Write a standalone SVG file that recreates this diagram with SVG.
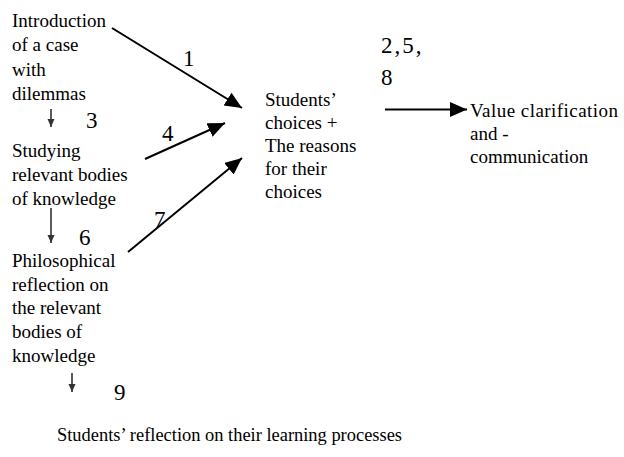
<svg xmlns="http://www.w3.org/2000/svg" width="624" height="457" viewBox="0 0 624 457" font-family="'Liberation Serif', 'Times New Roman', Times, 'DejaVu Serif', serif">
  <style>
    .t { font-size: 19px; fill: #000; }
    .n { font-size: 23px; fill: #000; }
    .main { stroke: #000; stroke-width: 2; fill: none; }
    .step { stroke: #333; stroke-width: 1.6; fill: none; }
  </style>
  <defs>
    <marker id="big" markerUnits="userSpaceOnUse" markerWidth="18" markerHeight="16" refX="17" refY="7.5" orient="auto">
      <path d="M0,0 L17,7.5 L0,15 Z" fill="#000"/>
    </marker>
    <marker id="small" markerUnits="userSpaceOnUse" markerWidth="9" markerHeight="8" refX="8" refY="3.5" orient="auto">
      <path d="M0,0 L8,3.5 L0,7 Z" fill="#333"/>
    </marker>
  </defs>

  <g id="connectors">
    <line class="main" x1="112" y1="28" x2="242" y2="108" marker-end="url(#big)"/>
    <line class="main" x1="145" y1="159" x2="225" y2="123" marker-end="url(#big)"/>
    <line class="main" x1="128" y1="252" x2="242" y2="158" marker-end="url(#big)"/>
    <line class="main" x1="385" y1="109.5" x2="467" y2="109.5" marker-end="url(#big)"/>
    <line class="step" x1="51" y1="109" x2="51" y2="127" marker-end="url(#small)"/>
    <line class="step" x1="51" y1="208" x2="51" y2="243" marker-end="url(#small)"/>
    <line class="step" x1="72" y1="373" x2="72" y2="392" marker-end="url(#small)"/>
  </g>

  <g id="labels">
    <text class="n" x="183" y="66">1</text>
    <text class="n" x="86" y="128">3</text>
    <text class="n" x="162" y="141">4</text>
    <text class="n" x="79" y="245">6</text>
    <text class="n" x="154" y="227">7</text>
    <text class="n" x="114" y="400">9</text>
    <text class="n" x="381" y="53" letter-spacing="2">2,5,</text>
    <text class="n" x="381" y="85">8</text>
  </g>

  <g id="introduction">
    <text class="t" x="12" y="27">Introduction</text>
    <text class="t" x="12" y="51">of a case</text>
    <text class="t" x="12" y="76">with</text>
    <text class="t" x="12" y="100">dilemmas</text>
  </g>

  <g id="studying">
    <text class="t" x="12" y="157">Studying</text>
    <text class="t" x="12" y="181">relevant bodies</text>
    <text class="t" x="12" y="205">of knowledge</text>
  </g>

  <g id="philosophical">
    <text class="t" x="12" y="267">Philosophical</text>
    <text class="t" x="12" y="291">reflection on</text>
    <text class="t" x="12" y="314">the relevant</text>
    <text class="t" x="12" y="338">bodies of</text>
    <text class="t" x="12" y="362">knowledge</text>
  </g>

  <g id="choices">
    <text class="t" x="265" y="106">Students’</text>
    <text class="t" x="265" y="129">choices +</text>
    <text class="t" x="265" y="152">The reasons</text>
    <text class="t" x="265" y="175">for their</text>
    <text class="t" x="265" y="198">choices</text>
  </g>

  <g id="value">
    <text class="t" x="470" y="117" textLength="148" lengthAdjust="spacing">Value clarification</text>
    <text class="t" x="470" y="140">and -</text>
    <text class="t" x="470" y="163">communication</text>
  </g>

  <g id="reflection">
    <text class="t" x="57" y="441" textLength="345" lengthAdjust="spacingAndGlyphs">Students’ reflection on their learning processes</text>
  </g>
</svg>
